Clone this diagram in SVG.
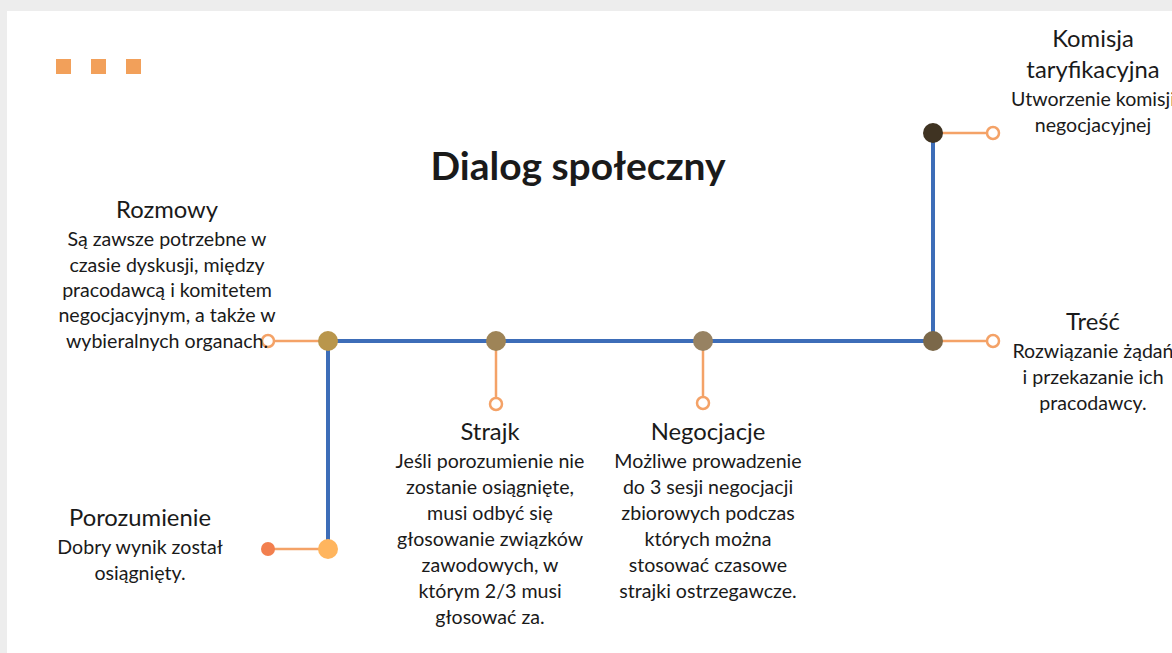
<svg xmlns="http://www.w3.org/2000/svg" width="1172" height="653" viewBox="0 0 1172 653">
<style>
.t{font-family:Lato,"Open Sans","Liberation Sans",sans-serif;fill:#1a1a1a;text-anchor:middle}
.h{font-size:23.8px}
.b{font-size:19.6px}
.blue{stroke:#3D6DB8;stroke-width:4;fill:none}
.or{stroke:#F4A267;stroke-width:2.5;fill:none}
.oc{fill:#fff;stroke:#F4A267;stroke-width:2.5}
</style>
<rect width="1172" height="653" fill="#fff"/>
<rect x="0" y="0" width="1172" height="11" fill="#EDEDED"/>
<rect x="0" y="0" width="7" height="653" fill="#EDEDED"/>
<g id="decor" fill="#F2A05A">
<rect x="56" y="59" width="15" height="15"/>
<rect x="91" y="59" width="15" height="15"/>
<rect x="126" y="59" width="15" height="15"/>
</g>
<text class="t" x="578" y="180" style="font-size:39px;font-weight:bold" fill="#000">Dialog społeczny</text>
<g id="connectors">
<path class="blue" d="M328 341 H933 V133"/>
<path class="blue" d="M328 341 V549"/>
<path class="or" d="M328 341 H274"/>
<path class="or" d="M496 341 V398"/>
<path class="or" d="M703 341 V397"/>
<path class="or" d="M933 341 H987"/>
<path class="or" d="M933 133 H987"/>
<path class="or" d="M328 549 H268"/>
</g>
<g id="rozmowy">
<circle cx="328" cy="341" r="10" fill="#B9964C"/>
<circle class="oc" cx="268" cy="341" r="6"/>
<text class="t h" x="167" y="218">Rozmowy</text>
<text class="t b"><tspan x="167" y="246">Są zawsze potrzebne w</tspan><tspan x="167" y="272">czasie dyskusji, między</tspan><tspan x="167" y="297">pracodawcą i komitetem</tspan><tspan x="167" y="322">negocjacyjnym, a także w</tspan><tspan x="167" y="348">wybieralnych organach.</tspan></text>
</g>
<g id="strajk">
<circle cx="496" cy="341" r="10" fill="#9E8457"/>
<circle class="oc" cx="496" cy="404" r="6"/>
<text class="t h" x="490" y="440">Strajk</text>
<text class="t b"><tspan x="490" y="468">Jeśli porozumienie nie</tspan><tspan x="490" y="494">zostanie osiągnięte,</tspan><tspan x="490" y="520">musi odbyć się</tspan><tspan x="490" y="546">głosowanie związków</tspan><tspan x="490" y="572">zawodowych, w</tspan><tspan x="490" y="598">którym 2/3 musi</tspan><tspan x="490" y="624">głosować za.</tspan></text>
</g>
<g id="negocjacje">
<circle cx="703" cy="341" r="10" fill="#978262"/>
<circle class="oc" cx="703" cy="403" r="6"/>
<text class="t h" x="708" y="440">Negocjacje</text>
<text class="t b"><tspan x="708" y="468">Możliwe prowadzenie</tspan><tspan x="708" y="494">do 3 sesji negocjacji</tspan><tspan x="708" y="520">zbiorowych podczas</tspan><tspan x="708" y="546">których można</tspan><tspan x="708" y="572">stosować czasowe</tspan><tspan x="708" y="598">strajki ostrzegawcze.</tspan></text>
</g>
<g id="tresc">
<circle cx="933" cy="341" r="10" fill="#7B6849"/>
<circle class="oc" cx="993" cy="341" r="6"/>
<text class="t h" x="1093" y="330">Treść</text>
<text class="t b"><tspan x="1093" y="358">Rozwiązanie żądań</tspan><tspan x="1093" y="384">i przekazanie ich</tspan><tspan x="1093" y="410">pracodawcy.</tspan></text>
</g>
<g id="komisja">
<circle cx="933" cy="133" r="10" fill="#3F3322"/>
<circle class="oc" cx="993" cy="133" r="6"/>
<text class="t h"><tspan x="1093" y="47">Komisja</tspan><tspan x="1093" y="78">taryfikacyjna</tspan></text>
<text class="t b"><tspan x="1093" y="106">Utworzenie komisji</tspan><tspan x="1093" y="132">negocjacyjnej</tspan></text>
</g>
<g id="porozumienie">
<circle cx="328" cy="549" r="10" fill="#FFB55E"/>
<circle cx="268" cy="549" r="7" fill="#F27F4E"/>
<text class="t h" x="140" y="526">Porozumienie</text>
<text class="t b"><tspan x="140" y="554">Dobry wynik został</tspan><tspan x="140" y="580">osiągnięty.</tspan></text>
</g>
</svg>
